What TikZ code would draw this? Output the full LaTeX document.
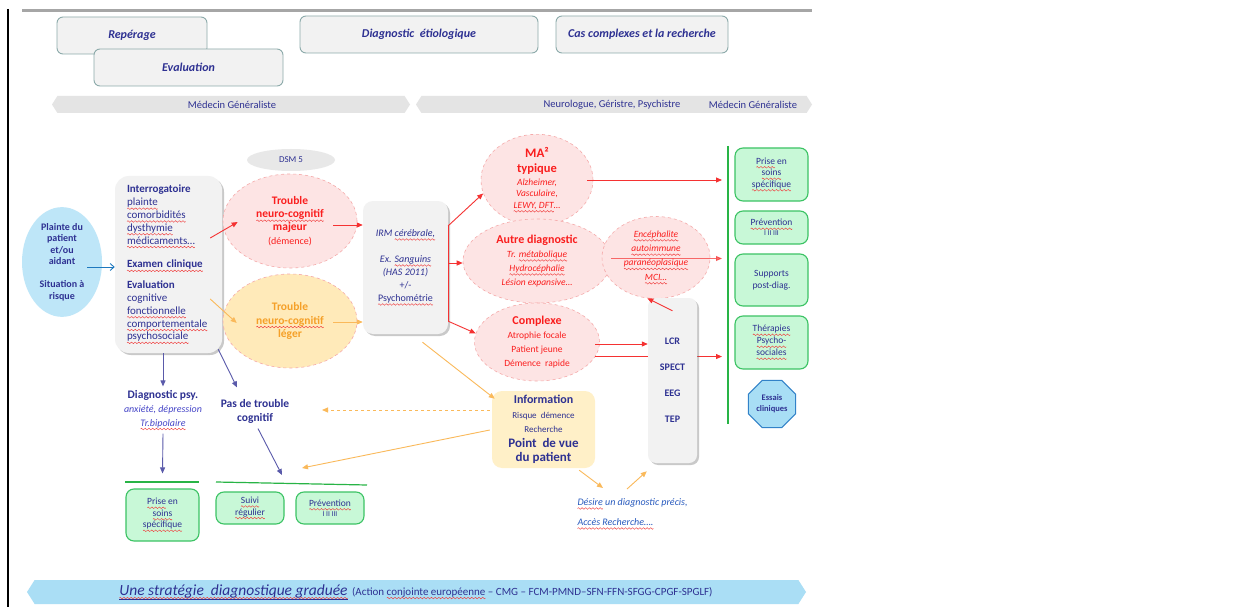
\documentclass[tikz,border=0pt]{standalone}
\usepackage{fontspec}
\setmainfont{Carlito}
\usetikzlibrary{arrows.meta,shapes.geometric,shapes.symbols,shadows,calc}
\definecolor{txtnavy}{RGB}{46,49,146}
\definecolor{tred}{RGB}{250,30,30}
\definecolor{ared}{RGB}{245,50,50}
\definecolor{pinkfill}{RGB}{253,228,228}
\definecolor{pinkbord}{RGB}{245,170,170}
\definecolor{legerfill}{RGB}{255,234,185}
\definecolor{torange}{RGB}{245,160,40}
\definecolor{aorange}{RGB}{250,185,90}
\definecolor{greenfill}{RGB}{200,248,215}
\definecolor{greenbord}{RGB}{60,195,100}
\definecolor{glinec}{RGB}{40,180,70}
\definecolor{plainteblue}{RGB}{190,230,248}
\definecolor{ablue}{RGB}{30,120,190}
\definecolor{tblue}{RGB}{40,90,190}
\definecolor{tpurp}{RGB}{70,70,200}
\definecolor{boxgray}{RGB}{242,242,242}
\definecolor{topbord}{RGB}{140,170,170}
\definecolor{bannergray}{RGB}{228,228,228}
\definecolor{bottomblue}{RGB}{170,222,245}
\definecolor{dsmgray}{RGB}{232,232,232}
\definecolor{octblue}{RGB}{168,222,245}
\definecolor{octbord}{RGB}{50,130,200}
\definecolor{infofill}{RGB}{255,240,200}
\definecolor{anavy}{RGB}{90,90,170}
\definecolor{squig}{RGB}{240,60,60}
\newsavebox\wavebox
\newcommand{\makewave}{\sbox\wavebox{\begin{pgfpicture}\pgfsetbaseline{0pt}%
  \pgfpathmoveto{\pgfqpoint{0pt}{0pt}}\pgfpathlineto{\pgfqpoint{0.9pt}{0.8pt}}%
  \pgfpathlineto{\pgfqpoint{2.7pt}{-0.8pt}}\pgfpathlineto{\pgfqpoint{3.6pt}{0pt}}%
  \pgfsetlinewidth{0.45pt}\pgfsetstrokecolor{squig}\pgfsetdash{}{0pt}\pgfusepath{stroke}%
  \pgfresetboundingbox\pgfpathrectangle{\pgfqpoint{0pt}{-1pt}}{\pgfqpoint{3.6pt}{2pt}}%
  \pgfusepath{use as bounding box}\end{pgfpicture}}}
\newcommand{\sq}[1]{\leavevmode\setbox0\hbox{#1}\rlap{\raisebox{-3pt}{\hbox to \wd0{\xleaders\copy\wavebox\hfill}}}\box0\relax}
\tikzset{
  sz/.style 2 args={minimum width=#1,minimum height=#2},
  topbox/.style={rectangle,rounded corners=6,draw=topbord,line width=0.9,fill=boxgray,inner sep=0,text=txtnavy,font=\fontsize{12}{14}\selectfont\bfseries\itshape},
  banner/.style={signal,signal to=west and east,signal pointer angle=115,fill=bannergray,inner sep=0,draw=none},
  bantext/.style={font=\fontsize{10.5}{12}\selectfont,text=txtnavy,inner sep=0},
  graybox/.style={rectangle,fill=boxgray,inner sep=0,text=txtnavy,drop shadow={shadow xshift=2pt,shadow yshift=-2pt,opacity=0.35,fill=black!60}},
  pinkell/.style={ellipse,fill=pinkfill,draw=pinkbord,dashed,line width=0.6,inner sep=0,text=tred,align=center},
  greenbox/.style={rectangle,rounded corners=8,fill=greenfill,draw=greenbord,line width=1.1,inner sep=0,text=txtnavy,align=center,font=\fontsize{9.5}{11.5}\selectfont},
  redarr/.style={draw=ared,line width=0.9,-{Triangle[length=6,width=5]}},
  redline/.style={draw=ared,line width=0.9},
  orarr/.style={draw=aorange,line width=0.9,-{Triangle[length=6,width=5]}},
  navyarr/.style={draw=anavy,line width=0.9,-{Triangle[length=6,width=5]}},
  bluearr/.style={draw=ablue,line width=0.9,-{Straight Barb[length=4,width=7]}},
  greenline/.style={draw=glinec,line width=1.2}
}
\begin{document}
\begin{tikzpicture}[x=1pt,y=-1pt]
\makewave
\useasboundingbox (0,0) rectangle (1245,606);
\fill[white] (0,0) rectangle (1245,606);

% frame lines
\draw[line width=2] (8,8) -- (8,606);
\draw[line width=3,color=black!35] (22,10) -- (812,10);

% top boxes
\node[topbox,sz={150}{37}] (rep) at (132,34.5) {Repérage};
\node[topbox,sz={189}{37}] (eval) at (188.5,66.5) {Evaluation};
\node[topbox,sz={238}{37}] (diag) at (419,33.5) {Diagnostic\ \ étiologique};
\node[topbox,sz={172}{37}] (cas) at (642,33.5) {Cas complexes et la recherche};

% banners
\node[banner,sz={358}{17}] (ban1) at (231,103.5) {};
\node[bantext] (ban1t) at (232,104) {Médecin Généraliste};
\node[banner,sz={396}{17}] (ban2) at (614,103.5) {};
\node[bantext] (ban2t) at (612,104) {Neurologue,\ Géristre,\ Psychistre};
\node[bantext] (ban2u) at (753,104) {Médecin\ Généraliste};

% DSM
\node[ellipse,fill=dsmgray,sz={88}{22},inner sep=0,text=txtnavy,font=\fontsize{9}{10}\selectfont] (dsm) at (291,159) {DSM 5};

% plainte
\node[ellipse,fill=plainteblue,sz={80}{105},inner sep=0,align=center,text=txtnavy,font=\fontsize{10}{11.5}\selectfont\bfseries] (plainte) at (62,261) {Plainte du\\patient\\et/ou\\aidant\\[11.5pt]Situation à\\risque};

% interrogatoire box
\node[graybox,rounded corners=14,sz={107}{177},text width=83,align=left,font=\fontsize{11}{12.8}\selectfont] (interro) at (168.5,263.5) {\textbf{Interrogatoire}\\\sq{plainte}\\\sq{comorbidités}\\\sq{dysthymie}\\\sq{médicaments…}\\[11pt]\sq{\textbf{Examen clinique}}\\[8pt]\textbf{Evaluation}\\cognitive\\\sq{fonctionnelle}\\\sq{comportementale}\\\sq{psychosociale}};

% trouble ellipses
\node[pinkell,sz={134}{94},font=\fontsize{11.5}{13.3}\selectfont\bfseries] (majeur) at (290,220) {Trouble\\\sq{neuro-cognitif}\\majeur\\{\mdseries\fontsize{10}{13.3}\selectfont(démence)}};
\node[pinkell,fill=legerfill,text=torange,sz={134}{94},font=\fontsize{11.5}{13.3}\selectfont\bfseries] (leger) at (290,320) {Trouble\\\sq{neuro-cognitif}\\léger};

% IRM box
\node[graybox,rounded corners=10,sz={85}{133},align=center,font=\fontsize{10}{13}\selectfont] (irm) at (405.5,266.5) {\textit{IRM \sq{cérébrale,}}\\[13pt]\textit{Ex. \sq{Sanguins}}\\\textit{(HAS 2011)}\\+/-\\\sq{Psychométrie}};

% diagnostic ellipses
\node[pinkell,sz={112}{80},font=\fontsize{9.5}{11.5}\selectfont\itshape] (ma) at (537,179) {{\upshape\bfseries\fontsize{13}{15}\selectfont MA²}\\[3.5pt]{\upshape\bfseries\fontsize{12.5}{14}\selectfont typique}\\[1pt]Alzheimer,\\Vasculaire,\\\sq{LEWY, DFT}…};
\node[pinkell,sz={148}{84},font=\fontsize{9.5}{14}\selectfont\itshape] (autre) at (537,260) {{\upshape\bfseries\fontsize{12}{14}\selectfont Autre diagnostic}\\Tr. \sq{métabolique}\\\sq{Hydrocéphalie}\\Lésion expansive…};
\node[pinkell,sz={108}{82},font=\fontsize{9.5}{14.3}\selectfont\itshape] (enc) at (656,256.5) {\sq{Encéphalite}\\\sq{autoimmune}\\\sq{paranéoplasique}\\\sq{MCI…}};
\node[pinkell,sz={125}{78},font=\fontsize{9.5}{14}\selectfont] (cplx) at (537,341) {{\bfseries\fontsize{12}{14}\selectfont Complexe}\\Atrophie focale\\Patient jeune\\Démence\ \ rapide};

% green column
\coordinate (gtop) at (728,145);
\coordinate (gbot) at (728,423);
\coordinate (gl) at (722,145);
\draw[greenline] (gtop) -- (gbot);

% arrow passing behind LCR box
\draw[redarr] (cplx.-14) -- (cplx.-14 -| gl);

% LCR box
\node[graybox,rounded corners=8,sz={49}{165},align=center,font=\fontsize{10}{26}\selectfont\bfseries] (lcr) at (672.5,379.5) {LCR\\SPECT\\EEG\\TEP};

% info box
\node[rectangle,rounded corners=10,fill=infofill,sz={103}{77},inner sep=0,align=center,text=txtnavy,font=\fontsize{9}{14.5}\selectfont] (info) at (543.5,428.5) {{\bfseries\fontsize{12}{14}\selectfont Information}\\Risque\ \ démence\\Recherche\\{\bfseries\fontsize{13}{15}\selectfont Point\ \ de vue}\\{\bfseries\fontsize{13}{15}\selectfont du patient}};

% right green boxes
\node[greenbox,sz={73}{53}] (pes2) at (771.5,173.5) {\sq{Prise} en\\\sq{soins}\\\sq{spécifique}};
\node[greenbox,sz={73}{33},font=\fontsize{9.5}{10}\selectfont] (prev2) at (771.5,226.5) {\sq{Prévention}\\{\fontsize{7.5}{9}\selectfont I II III}};
\node[greenbox,sz={73}{52},font=\fontsize{9.5}{12}\selectfont] (supp) at (771.5,279) {Supports\\post-diag.};
\node[greenbox,sz={73}{53},font=\fontsize{9.5}{12}\selectfont] (ther) at (771.5,341.5) {\sq{Thérapies}\\\sq{Psycho-}\\\sq{sociales}};
\node[regular polygon,regular polygon sides=8,fill=octblue,draw=octbord,line width=1,minimum size=51,inner sep=0,align=center,text=txtnavy,font=\fontsize{8.5}{11}\selectfont\bfseries] (essais) at (772,403) {Essais\\cliniques};

% left-bottom texts
\node[align=center,text=txtnavy,font=\fontsize{11.5}{14}\selectfont\bfseries] (dpsy) at (163,409) {Diagnostic psy.\\{\mdseries\itshape\color{tpurp}\fontsize{10}{13}\selectfont anxiété, dépression}\\{\mdseries\itshape\color{tpurp}\fontsize{10}{13}\selectfont \sq{Tr.bipolaire}}};
\node[align=center,text=txtnavy,font=\fontsize{11.5}{14}\selectfont\bfseries] (ptc) at (255,410) {Pas de trouble\\cognitif};
\node[anchor=west,align=left,text=tblue,font=\fontsize{10}{20}\selectfont\itshape] (desire) at (574,513) {\sq{Désire} un diagnostic précis,\\\sq{Accès Recherche….}};

% bottom green
\draw[greenline] (125,481) -- (199,481);
\draw[greenline] (216,481) -- (367,484);
\node[greenbox,sz={73}{52}] (pes1) at (162.5,514) {\sq{Prise} en\\\sq{soins}\\\sq{spécifique}};
\node[greenbox,sz={68}{32},font=\fontsize{9.5}{10.5}\selectfont] (suivi) at (250,507) {\sq{Suivi}\\\sq{régulier}};
\node[greenbox,sz={68}{32},font=\fontsize{9.5}{10}\selectfont] (prev1) at (330,507) {\sq{Prévention}\\{\fontsize{7.5}{9}\selectfont I II III}};

% bottom banner
\node[banner,fill=bottomblue,sz={779}{24}] (bottom) at (416.5,591) {};
\node[inner sep=0,text=txtnavy] (bottomt) at (416,591) {{\fontsize{15.5}{17}\selectfont\itshape\sq{\underline{Une stratégie\ \ diagnostique graduée}}}\ \ {\fontsize{11}{12}\selectfont(Action \sq{conjointe européenne} – CMG – FCM-PMND–SFN-FFN-SFGG-CPGF-SPGLF)}};

% ---- connectors ----
\coordinate (pa) at ($(plainte.east)+(-15,5)$);
\draw[bluearr] (pa) -- (pa -| interro.west);

\draw[redarr] ($(interro.east)+(-12,-26.5)$) -- ($(majeur.west)+(15,1)$);
\draw[orarr] ($(interro.east)+(-12,34.5)$) -- ($(leger.west)+(14,2)$);
\coordinate (mj) at ($(majeur.east)+(-24,4)$);
\draw[redarr] (mj) -- (mj -| irm.west);
\coordinate (lg) at ($(leger.east)+(-24,1)$);
\draw[orarr] (lg) -- (lg -| irm.west);

\coordinate (j1) at ($(irm.north east)+(0,25)$);
\coordinate (j2) at ($(irm.east)+(0,-4.5)$);
\coordinate (j3) at ($(irm.south east)+(0,-13)$);
\draw[redline] (j1) -- (j3);
\draw[redarr] (j1) -- (ma.194);
\draw[redarr] (j2) -- (j2 -| autre.west);
\draw[redarr] (j3) -- (cplx.172);

\coordinate (ma1) at ($(ma.east)+(-6,0)$);
\draw[redarr] (ma1) -- (ma1 -| gl);
\coordinate (au1) at ($(autre.east)+(0,-2.5)$);
\draw[redarr,opacity=0.7] (au1) -- (au1 -| gl);
\coordinate (c1) at ($(cplx.east)+(-4.5,2)$);
\draw[redarr] (c1) -- (c1 -| lcr.west);
\draw[redarr] ($(lcr.north)+(0,13)$) -- (enc.258);

\draw[navyarr] ($(interro.south)+(-5.5,0)$) -- (dpsy.north);
\draw[navyarr] ($(interro.south east)+(-4,-4)$) -- ($(ptc.north)+(-18,-8)$);
\draw[navyarr] (dpsy.south) -- ($(pes1.north)+(0,-15)$);
\coordinate (e1) at (282,474);
\draw[navyarr] ($(ptc.south)+(3,2)$) -- (e1);

\coordinate (e2) at (322,409);
\coordinate (e3) at (302,467);
\coordinate (e4) at (603,487);
\coordinate (e5) at (627,488);
\draw[orarr] ($(irm.south)+(17,8)$) -- ($(info.north west)+(3,8)$);
\draw[orarr,dashed] ($(info.west)+(-2,-19.5)$) -- (e2);
\draw[orarr] ($(info.west)+(-2,0.5)$) -- (e3);
\draw[orarr] ($(info.south east)+(-16,2)$) -- (e4);
\draw[orarr] (e5) -- ($(lcr.south west)+(-1,8)$);
\end{tikzpicture}
\end{document}
